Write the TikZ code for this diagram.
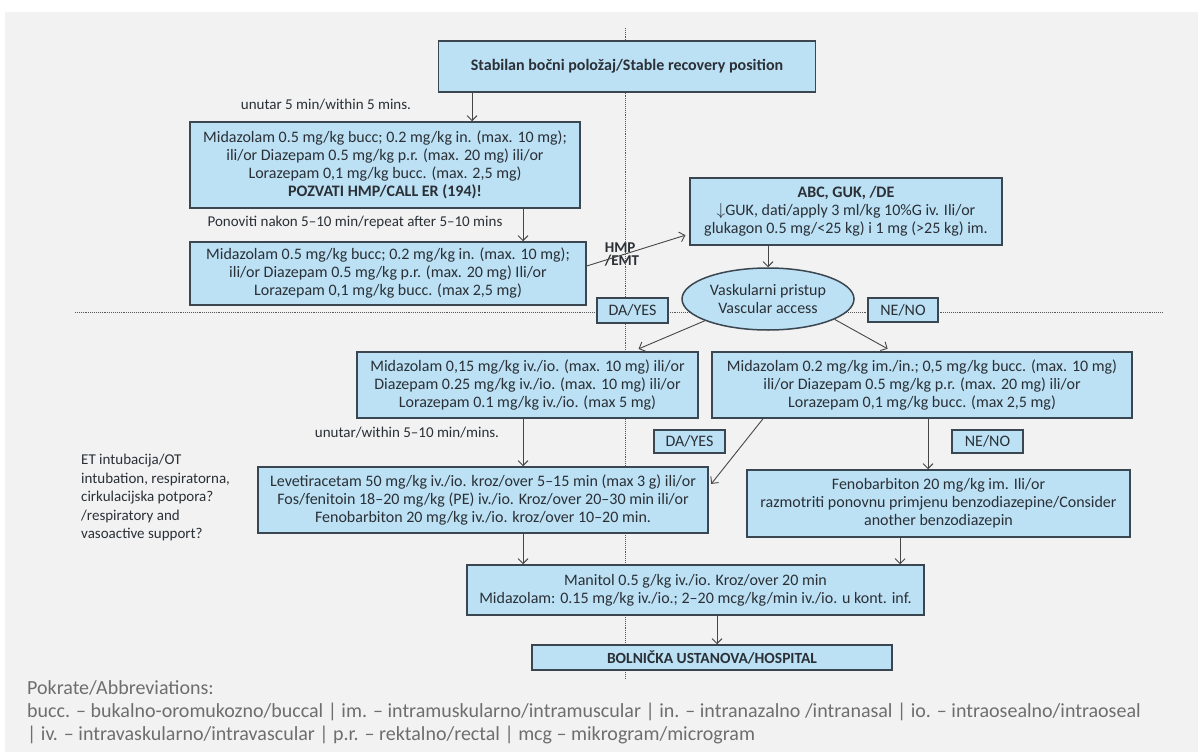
\documentclass[tikz,border=0pt]{standalone}
\usepackage{fontspec}
\setmainfont{Carlito}
\usepackage{xcolor}
\usetikzlibrary{shapes, arrows.meta}

\definecolor{boxblue}{RGB}{188,224,244}
\definecolor{boxline}{RGB}{58,70,80}
\definecolor{panel}{RGB}{242,242,242}
\definecolor{ink}{RGB}{42,48,54}
\definecolor{arrowgray}{RGB}{70,70,70}
\definecolor{footgray}{RGB}{110,110,110}

\begin{document}
\begin{tikzpicture}[x=1pt,y=-1pt,>={Straight Barb[length=5pt,width=10pt]},
      every node/.style={text=ink},
      main node/.style={draw=boxline,line width=1.5pt,fill=boxblue,align=center,
        inner sep=0pt,font=\fontsize{16}{18}\selectfont},
      note node/.style={inner sep=0pt,font=\fontsize{15}{17}\selectfont},
      foot node/.style={inner sep=0pt,anchor=west,text=footgray,font=\fontsize{20}{22}\selectfont},
      flow/.style={->,draw=arrowgray,line width=0.9pt},
      guide/.style={densely dotted,draw=gray!70!black,line width=0.9pt}]

    % page and panel
    \useasboundingbox (0,0) rectangle (1198,752);
    \fill[white] (0,0) rectangle (1198,752);
    \fill[panel] (5,12) rectangle (1198,752);

    % guide lines
    \draw[guide] (625,28) -- (625,678);
    \draw[guide] (75,312) -- (1163,312);

    \node[main node,minimum width=377pt,minimum height=51pt,font=\bfseries\fontsize{16}{18}\selectfont] (start) at (627,66.5) {Stabilan bočni položaj/Stable recovery position};
    \node[main node,minimum width=390pt,minimum height=86pt] (benzoA) at (385,165) {Midazolam 0.5 mg/kg bucc; 0.2 mg/kg in. (max. 10 mg);\\ ili/or Diazepam 0.5 mg/kg p.r. (max. 20 mg) ili/or\\ Lorazepam 0,1 mg/kg bucc. (max. 2,5 mg)\\ \textbf{POZVATI HMP/CALL ER (194)!}};
    \node[main node,minimum width=396pt,minimum height=63pt] (benzoB) at (388,273.5) {Midazolam 0.5 mg/kg bucc; 0.2 mg/kg in. (max. 10 mg);\\ ili/or Diazepam 0.5 mg/kg p.r. (max. 20 mg) Ili/or\\ Lorazepam 0,1 mg/kg bucc. (max 2,5 mg)};
    \node[main node,minimum width=312pt,minimum height=67pt] (glucose) at (846,211.5) {\textbf{ABC, GUK, /DE}\\ $\downarrow$GUK, dati/apply 3 ml/kg 10\%G iv. Ili/or\\ glukagon 0.5 mg/<25 kg) i 1 mg (>25 kg) im.};
    \node[main node,ellipse,minimum width=172pt,minimum height=62pt] (access) at (768,299) {Vaskularni pristup\\ Vascular access};
    \node[main node,minimum width=71pt,minimum height=25pt] (yesA) at (632.5,310.5) {DA/YES};
    \node[main node,minimum width=70pt,minimum height=24pt] (noA) at (903,310) {NE/NO};
    \node[main node,minimum width=341pt,minimum height=66pt] (ivBenzo) at (527.5,385) {Midazolam 0,15 mg/kg iv./io. (max. 10 mg) ili/or\\ Diazepam 0.25 mg/kg iv./io. (max. 10 mg) ili/or\\ Lorazepam 0.1 mg/kg iv./io. (max 5 mg)};
    \node[main node,minimum width=420pt,minimum height=66pt] (otherBenzo) at (922,385) {Midazolam 0.2 mg/kg im./in.; 0,5 mg/kg bucc. (max. 10 mg)\\ ili/or Diazepam 0.5 mg/kg p.r. (max. 20 mg) ili/or\\ Lorazepam 0,1 mg/kg bucc. (max 2,5 mg)};
    \node[main node,minimum width=71pt,minimum height=23pt] (yesB) at (689.5,441.5) {DA/YES};
    \node[main node,minimum width=71pt,minimum height=23pt] (noB) at (987.5,441.5) {NE/NO};
    \node[main node,minimum width=450pt,minimum height=66pt] (secondLine) at (483,500) {Levetiracetam 50 mg/kg iv./io. kroz/over 5–15 min (max 3 g) ili/or\\ Fos/fenitoin 18–20 mg/kg (PE) iv./io. Kroz/over 20–30 min ili/or\\ Fenobarbiton 20 mg/kg iv./io. kroz/over 10–20 min.};
    \node[main node,minimum width=383pt,minimum height=67pt] (phenobarb) at (938.5,503.5) {Fenobarbiton 20 mg/kg im. Ili/or\\ razmotriti ponovnu primjenu benzodiazepine/Consider\\ another benzodiazepin};
    \node[main node,minimum width=457pt,minimum height=50pt] (manitol) at (695.5,590) {Manitol 0.5 g/kg iv./io. Kroz/over 20 min\\ Midazolam: 0.15 mg/kg iv./io.; 2–20 mcg/kg/min iv./io. u kont. inf.};
    \node[main node,minimum width=360pt,minimum height=25pt,font=\bfseries\fontsize{15.5}{17}\selectfont] (hospital) at (712,657.5) {BOLNIČKA USTANOVA/HOSPITAL};

    % side texts
    \node[note node] (waitA) at (326,105) {unutar 5 min/within 5 mins.};
    \node[note node] (waitB) at (355,222) {Ponoviti nakon 5–10 min/repeat after 5–10 mins};
    \node[note node] (waitC) at (407,433) {unutar/within 5–10 min/mins.};
    \node[note node,align=left,anchor=north west,font=\fontsize{15}{18.5}\selectfont] (airway) at (81,454) {ET intubacija/OT\\ intubation, respiratorna,\\ cirkulacijska potpora?\\ /respiratory and\\ vasoactive support?};
    \node[note node,align=left,font=\bfseries\fontsize{15}{13}\selectfont] (emt) at (622,254) {HMP\\/EMT};

    \path[every edge/.style={flow}]
        (start.south -| 472,0) edge (benzoA.north -| 472,0)
        (benzoA.south -| 523,0) edge (benzoB.north -| 523,0)
        (benzoB.east |- 0,266) edge[shorten >=4pt] (glucose.west |- 0,234)
        (glucose.south -| access.north) edge (access.north)
        (access.199) edge[shorten >=6pt] (ivBenzo.north -| 633,0)
        (access.343) edge[shorten >=5pt] (otherBenzo.north -| 892,0)
        (ivBenzo.south -| 523,0) edge (secondLine.north -| 523,0)
        (otherBenzo.south -| 763,0) edge[shorten >=4pt] (secondLine.east |- 0,487)
        (otherBenzo.south -| 928,0) edge (phenobarb.north -| 928,0)
        (secondLine.south -| 523,0) edge (manitol.north -| 523,0)
        (phenobarb.south -| 900,0) edge (manitol.north -| 900,0)
        (manitol.south -| 717,0) edge (hospital.north -| 717,0)
    ;

    % abbreviations
    \node[foot node] (abbrTitle) at (27,688) {Pokrate/Abbreviations:};
    \node[foot node] (abbrA) at (27,712) {bucc. – bukalno-oromukozno/buccal | im. – intramuskularno/intramuscular | in. – intranazalno /intranasal | io. – intraosealno/intraoseal};
    \node[foot node] (abbrB) at (27,735) {| iv. – intravaskularno/intravascular | p.r. – rektalno/rectal | mcg – mikrogram/microgram};
\end{tikzpicture}
\end{document}
